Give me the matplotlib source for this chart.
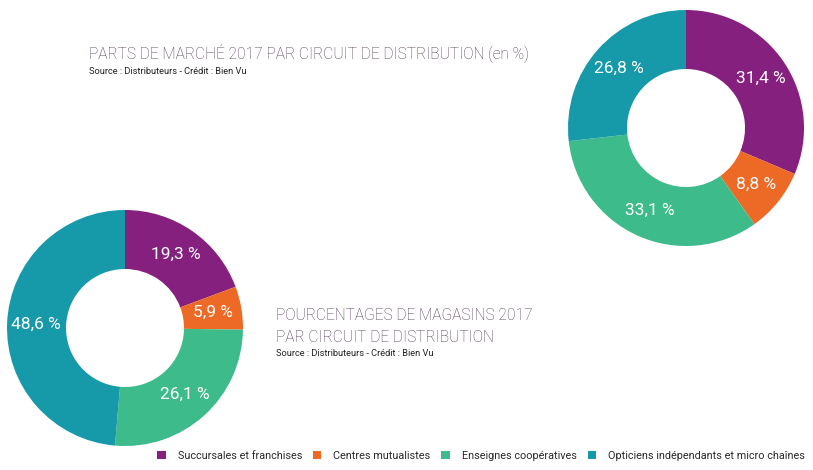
import matplotlib.pyplot as plt
from matplotlib.patches import Patch

categories = ['Succursales et franchises', 'Centres mutualistes',
              'Enseignes coopératives', 'Opticiens indépendants et micro chaînes']
colors = ['#86207F', '#EC6A26', '#3DBB8B', '#1699A9']

parts_marche = [31.4, 8.8, 33.1, 26.8]
pct_magasins = [19.3, 5.9, 26.1, 48.6]

title_col = '#4E3A51'
W, H = 813, 470

fig = plt.figure(figsize=(W / 100, H / 100), dpi=100)


def donut(cx, cy, r, values):
    ax = fig.add_axes([(cx - r) / W, (H - cy - r) / H, 2 * r / W, 2 * r / H])
    labels = [f'{v:.1f} %'.replace('.', ',') for v in values]
    wedges, texts = ax.pie(values, colors=colors, startangle=90, counterclock=False,
                           radius=1, labels=labels, labeldistance=0.76,
                           wedgeprops=dict(width=0.5, edgecolor='none'))
    for t in texts:
        t.set_ha('center')
        t.set_va('center')
        t.set_color('white')
        t.set_fontsize(12.5)
        t.set_family('Roboto')
        t.set_clip_on(False)
    ax.set_xlim(-1, 1)
    ax.set_ylim(-1, 1)
    ax.set_aspect('equal')
    ax.axis('off')


donut(686, 128, 118, parts_marche)
donut(125, 328, 118, pct_magasins)

# titles
fig.text(89 / W, 1 - 53 / H, 'PARTS DE MARCHÉ 2017 PAR CIRCUIT DE DISTRIBUTION (en %)',
         fontsize=11.2, color=title_col, family='Roboto', weight='light', va='center')
fig.text(89 / W, 1 - 71 / H, 'Source : Distributeurs - Crédit : Bien Vu',
         fontsize=6.7, color='#222222', family='Roboto', va='center')

fig.text(276 / W, 1 - 315 / H, 'POURCENTAGES DE MAGASINS 2017',
         fontsize=11.2, color=title_col, family='Roboto', weight='light', va='center')
fig.text(276 / W, 1 - 337 / H, 'PAR CIRCUIT DE DISTRIBUTION',
         fontsize=11.2, color=title_col, family='Roboto', weight='light', va='center')
fig.text(276 / W, 1 - 354 / H, 'Source : Distributeurs - Crédit : Bien Vu',
         fontsize=6.7, color='#222222', family='Roboto', va='center')

handles = [Patch(facecolor=c, edgecolor='none') for c in colors]
fig.legend(handles, categories, loc='center right', bbox_to_anchor=(805 / W, 1 - 456 / H),
           ncol=4, frameon=False, handlelength=0.8, handleheight=0.8, handletextpad=1.1,
           columnspacing=1.0, prop=dict(family='Roboto', size=7.8), labelcolor='#2A2A2A',
           borderaxespad=0, borderpad=0)

fig.savefig('out.png', dpi=100, facecolor='white')
